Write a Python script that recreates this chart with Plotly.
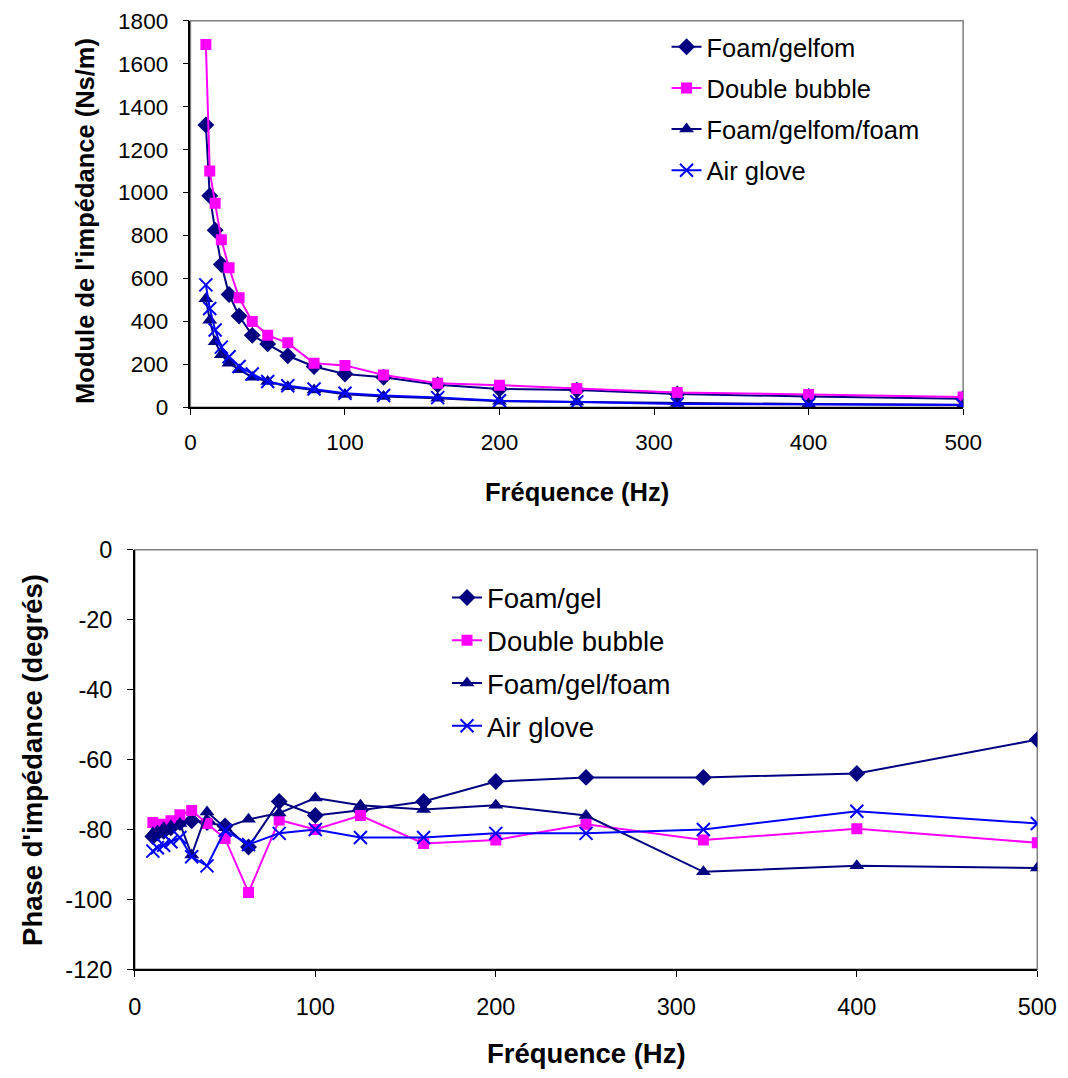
import plotly.graph_objects as go

# Third-octave centre frequencies (Hz)
freq = [10, 12.5, 16, 20, 25, 31.5, 40, 50, 63, 80, 100, 125, 160, 200, 250, 315, 400, 500]

# Impedance modulus (Ns/m)
mod_foam_gel = [1315, 985, 825, 665, 525, 425, 335, 295, 240, 190, 155, 140, 105, 85, 80, 62, 50, 40]
mod_double_bubble = [1690, 1100, 950, 780, 650, 510, 400, 335, 300, 205, 195, 150, 112, 103, 87, 69, 60, 48]
mod_foam_gel_foam = [505, 405, 305, 245, 205, 175, 140, 120, 95, 80, 60, 50, 42, 28, 25, 18, 15, 12]
mod_air_glove = [570, 460, 360, 280, 235, 190, 155, 120, 100, 85, 65, 55, 45, 30, 25, 15, 12, 10]

# Impedance phase (degrees)
phase_foam_gel = [-82, -81, -80.5, -79.5, -78, -77.5, -78, -79, -85, -72, -76, -74.5, -72, -66.3, -65.1, -65.1, -64, -54.3]
phase_double_bubble = [-78, -79, -78.5, -77.5, -75.8, -74.6, -78.3, -82.6, -98, -77.3, -80, -76, -84, -83, -78.5, -83, -79.8, -83.8]
phase_foam_gel_foam = [-81, -80.5, -79.5, -79, -78.3, -87.3, -75, -79.5, -77.1, -75.3, -71, -73.1, -74.3, -73.1, -76, -92.1, -90.4, -91]
phase_air_glove = [-86.2, -85.2, -84.5, -83.5, -82.3, -87.8, -90.4, -80.2, -84.3, -81.1, -80, -82.3, -82.3, -81.1, -81.1, -80, -74.8, -78.3]

names_top = ["Foam/gelfom", "Double bubble", "Foam/gelfom/foam", "Air glove"]
names_bottom = ["Foam/gel", "Double bubble", "Foam/gel/foam", "Air glove"]

# Tick positions and labels (hyphen-minus for negative values)
freq_ticks = [0, 100, 200, 300, 400, 500]
mod_ticks = [0, 200, 400, 600, 800, 1000, 1200, 1400, 1600, 1800]
phase_ticks = [0, -20, -40, -60, -80, -100, -120]
phase_tick_text = ["0", "-20", "-40", "-60", "-80", "-100", "-120"]

NAVY = "#000080"
PINK = "#FF00FF"
BLUE = "#0000FF"
FONT = "Liberation Sans, Arial, sans-serif"

styles = [
    dict(line=dict(color=NAVY, width=2), marker=dict(symbol="diamond", size=13, color=NAVY)),
    dict(line=dict(color=PINK, width=2), marker=dict(symbol="square", size=11, color=PINK)),
    dict(line=dict(color=NAVY, width=2), marker=dict(symbol="triangle-up", size=13, color=NAVY)),
    dict(line=dict(color=BLUE, width=2),
         marker=dict(symbol="x-thin", size=13, color=BLUE, line=dict(color=BLUE, width=2))),
]

W, H = 1068, 1078
fig = go.Figure()

top_series = [mod_foam_gel, mod_double_bubble, mod_foam_gel_foam, mod_air_glove]
bottom_series = [phase_foam_gel, phase_double_bubble, phase_foam_gel_foam, phase_air_glove]

for i, (name, ys) in enumerate(zip(names_top, top_series)):
    fig.add_trace(go.Scatter(x=freq, y=ys, name=name, mode="lines+markers",
                             xaxis="x", yaxis="y", legend="legend",
                             legendgroup="t%d" % i, **styles[i]))
for i, (name, ys) in enumerate(zip(names_bottom, bottom_series)):
    fig.add_trace(go.Scatter(x=freq, y=ys, name=name, mode="lines+markers",
                             xaxis="x2", yaxis="y2", legend="legend2",
                             legendgroup="b%d" % i, **styles[i]))


def px(x):
    return x / W


def py(y):
    return 1 - y / H


axis_common = dict(showgrid=False, zeroline=False, showline=True, linecolor="black",
                   linewidth=1.5, ticks="outside", ticklen=6, tickcolor="black",
                   tickwidth=1, color="black")

# Plot-area edges in pixels
top_l, top_r, top_t, top_b = 188, 980, 8, 404
bot_l, bot_r, bot_t, bot_b = 131, 1056, 550, 980

fig.update_layout(
    width=W, height=H,
    margin=dict(l=0, r=0, t=0, b=0),
    paper_bgcolor="white", plot_bgcolor="white",
    font=dict(family=FONT, color="black"),
    xaxis=dict(domain=[px(top_l), px(top_r)], range=[0, 500], tickvals=freq_ticks, anchor="y",
               tickfont=dict(size=22.5), ticklabelstandoff=8, **axis_common),
    yaxis=dict(domain=[py(top_b), py(top_t)], range=[0, 1800], tickvals=mod_ticks, anchor="x",
               tickfont=dict(size=22.5), ticklabelstandoff=10, **axis_common),
    xaxis2=dict(domain=[px(bot_l), px(bot_r)], range=[0, 500], tickvals=freq_ticks, anchor="y2",
                tickfont=dict(size=23.5), ticklabelstandoff=10, **axis_common),
    yaxis2=dict(domain=[py(bot_b), py(bot_t)], range=[-120, 0], tickvals=phase_ticks,
                ticktext=phase_tick_text, anchor="x2",
                tickfont=dict(size=23.5), ticklabelstandoff=10, **axis_common),
    legend=dict(x=px(676), y=py(11), xanchor="left", yanchor="top",
                font=dict(size=25.5), traceorder="grouped", tracegroupgap=5,
                bgcolor="rgba(0,0,0,0)"),
    legend2=dict(x=px(451), y=py(574), xanchor="left", yanchor="top",
                 font=dict(size=27.5), traceorder="grouped", tracegroupgap=4,
                 bgcolor="rgba(0,0,0,0)"),
    shapes=[
        dict(type="rect", xref="x domain", yref="y domain", x0=0, x1=1, y0=0, y1=1,
             line=dict(color="#808080", width=1.5), layer="below"),
        dict(type="rect", xref="x2 domain", yref="y2 domain", x0=0, x1=1, y0=0, y1=1,
             line=dict(color="#808080", width=1.5), layer="below"),
    ],
    annotations=[
        dict(text="<b>Fréquence (Hz)</b>", x=px(584), y=py(491),
             xref="paper", yref="paper", showarrow=False, font=dict(size=25.5),
             xanchor="center", yanchor="middle"),
        dict(text="<b>Module de l'impédance (Ns/m)</b>", x=px(80), y=py(213),
             xref="paper", yref="paper", showarrow=False, font=dict(size=25.5),
             textangle=-90, xanchor="center", yanchor="middle"),
        dict(text="<b>Fréquence (Hz)</b>", x=px(594), y=py(1066),
             xref="paper", yref="paper", showarrow=False, font=dict(size=27.5),
             xanchor="center", yanchor="middle"),
        dict(text="<b>Phase d'impédance (degrés)</b>", x=px(26), y=py(765),
             xref="paper", yref="paper", showarrow=False, font=dict(size=27.5),
             textangle=-90, xanchor="center", yanchor="middle"),
    ],
)

fig.write_html("out.html")
